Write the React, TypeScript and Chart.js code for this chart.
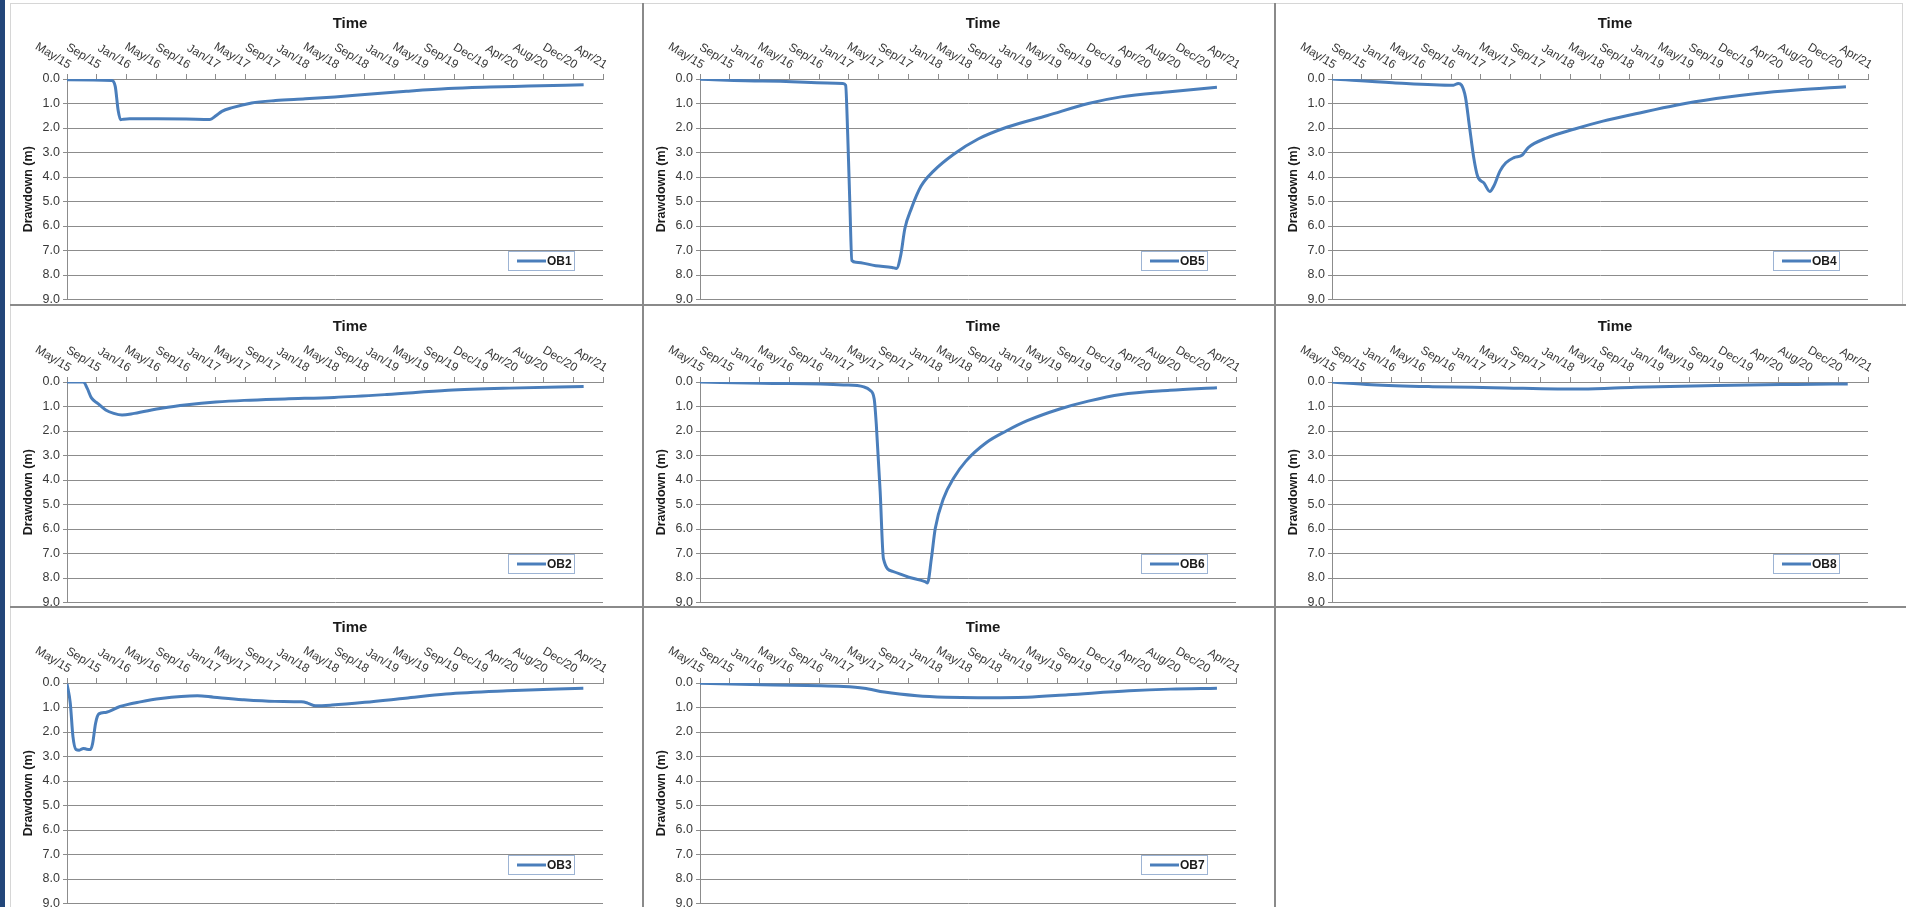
import React, { useEffect, useRef } from 'react';
import { Chart, registerables } from 'chart.js';

Chart.register(...registerables);

// ---- tick labels ----
const timeLabels = [
  'May/15', 'Sep/15', 'Jan/16', 'May/16', 'Sep/16', 'Jan/17', 'May/17', 'Sep/17', 'Jan/18',
  'May/18', 'Sep/18', 'Jan/19', 'May/19', 'Sep/19', 'Dec/19', 'Apr/20', 'Aug/20', 'Dec/20', 'Apr/21',
];
const yMin = 0;
const yMax = 9;

// ---- series (x = position along the time axis in label steps, y = drawdown in m) ----
const ob1X = [0, 1.5, 1.62, 1.72, 1.8, 1.9, 2.1, 3.0, 4.0, 4.8, 5.0, 5.2, 5.55, 6.2, 7.0, 8.0, 9.0, 10.0, 11.4, 12.8, 14.2, 15.5, 17.35];
const ob1Y = [0.03, 0.06, 0.3, 1.3, 1.66, 1.64, 1.62, 1.62, 1.63, 1.65, 1.5, 1.32, 1.17, 0.98, 0.88, 0.81, 0.73, 0.63, 0.5, 0.39, 0.33, 0.29, 0.23];

const ob5X = [0, 2.1, 4.8, 4.89, 4.96, 5.03, 5.1, 5.24, 5.9, 6.45, 6.6, 6.74, 6.88, 7.1, 7.42, 7.84, 8.52, 9.34, 10.3, 11.67, 13.04, 14.14, 15.78, 17.36];
const ob5Y = [0.01, 0.08, 0.18, 0.25, 2.25, 5.0, 7.41, 7.48, 7.62, 7.69, 7.73, 7.2, 6.1, 5.28, 4.38, 3.76, 3.07, 2.45, 1.97, 1.49, 1.0, 0.73, 0.52, 0.34];

const ob4X = [0, 2.04, 4.08, 4.24, 4.35, 4.48, 4.62, 4.76, 4.89, 5.1, 5.3, 5.43, 5.64, 5.84, 6.11, 6.39, 6.59, 7.2, 8.15, 9.1, 10.2, 11.55, 12.9, 14.27, 15.6, 17.26];
const ob4Y = [0.0, 0.15, 0.25, 0.18, 0.25, 0.73, 1.97, 3.21, 3.97, 4.24, 4.59, 4.38, 3.76, 3.42, 3.21, 3.1, 2.8, 2.41, 2.04, 1.72, 1.42, 1.07, 0.8, 0.59, 0.45, 0.32];

const ob2X = [0, 0.55, 0.68, 0.82, 1.03, 1.3, 1.57, 1.85, 2.26, 3.22, 4.04, 5.0, 5.95, 7.32, 8.97, 10.74, 12.8, 14.85, 17.35];
const ob2Y = [0.0, 0.0, 0.26, 0.65, 0.87, 1.14, 1.28, 1.35, 1.28, 1.06, 0.93, 0.82, 0.75, 0.69, 0.63, 0.51, 0.34, 0.25, 0.18];

const ob6X = [0, 2.08, 4.82, 5.5, 5.71, 5.85, 5.92, 6.05, 6.16, 6.47, 7.01, 7.56, 7.64, 7.77, 7.9, 8.18, 8.52, 8.93, 9.62, 10.3, 10.99, 12.08, 13.04, 14.14, 15.78, 17.36];
const ob6Y = [0.0, 0.05, 0.12, 0.2, 0.34, 0.69, 1.72, 4.46, 7.21, 7.73, 7.97, 8.15, 8.2, 7.21, 5.98, 4.74, 3.92, 3.23, 2.47, 1.99, 1.58, 1.1, 0.78, 0.51, 0.34, 0.23];

const ob8X = [0, 1.33, 3.37, 5.41, 8.4, 10.18, 12.9, 15.6, 17.32];
const ob8Y = [0.0, 0.11, 0.19, 0.23, 0.29, 0.21, 0.14, 0.1, 0.08];

const ob3X = [0, 0.11, 0.2, 0.3, 0.41, 0.55, 0.66, 0.79, 0.86, 0.96, 1.07, 1.3, 1.78, 2.46, 3.15, 4.38, 4.93, 5.89, 6.98, 7.87, 8.08, 8.35, 8.9, 10.0, 11.36, 12.73, 14.78, 17.34];
const ob3Y = [0.03, 0.82, 2.19, 2.71, 2.74, 2.67, 2.7, 2.71, 2.47, 1.64, 1.26, 1.2, 0.96, 0.77, 0.63, 0.52, 0.58, 0.68, 0.75, 0.77, 0.82, 0.93, 0.9, 0.79, 0.62, 0.45, 0.32, 0.21];

const ob7X = [0, 2.08, 4.82, 5.51, 6.19, 7.29, 8.25, 9.34, 10.99, 12.36, 14.41, 15.78, 17.36];
const ob7Y = [0.01, 0.07, 0.14, 0.21, 0.37, 0.52, 0.58, 0.6, 0.58, 0.48, 0.32, 0.25, 0.21];

// ---- styling ----
const FONT = '"Liberation Sans", Arial, sans-serif';
const LINE_COLOR = '#4a7ebb';
const GRID_COLOR = '#8c8c8c';
const TEXT_COLOR = '#383838';
const PANEL_W = 632;
const PANEL_H = 307;
const COL_LEFT = [10, 643, 1275];
const ROW_TOP = [3, 306, 607];

const axisDecorPlugin = {
  id: 'axisDecor',
  afterDraw(chart: any) {
    const { ctx, chartArea } = chart;
    const xs = chart.scales.x;
    const ys = chart.scales.y;
    ctx.save();
    // axis title "Time"
    ctx.font = `bold 15px ${FONT}`;
    ctx.fillStyle = '#1a1a1a';
    ctx.textAlign = 'center';
    ctx.textBaseline = 'middle';
    ctx.fillText('Time', (chartArea.left + chartArea.right) / 2 + 15, 21);
    // rotated category labels on the top axis
    ctx.font = `12px ${FONT}`;
    ctx.fillStyle = TEXT_COLOR;
    ctx.textAlign = 'right';
    ctx.textBaseline = 'middle';
    timeLabels.forEach((lab, i) => {
      const px = xs.getPixelForValue(i);
      ctx.save();
      ctx.translate(px + 3, chartArea.top - 13);
      ctx.rotate((31 * Math.PI) / 180);
      ctx.fillText(lab, 0, 0);
      ctx.restore();
    });
    // legend box inside plot
    const ds = chart.data.datasets[0];
    const w = 67;
    const h = 20;
    const x0 = Math.round(chartArea.right - 28 - w);
    const y0 = Math.round(ys.getPixelForValue(7));
    ctx.fillStyle = '#ffffff';
    ctx.fillRect(x0, y0, w, h);
    ctx.strokeStyle = '#9db4d4';
    ctx.lineWidth = 1;
    ctx.strokeRect(x0 + 0.5, y0 + 0.5, w - 1, h - 1);
    ctx.strokeStyle = ds.borderColor;
    ctx.lineWidth = 3;
    ctx.beginPath();
    ctx.moveTo(x0 + 9, y0 + h / 2);
    ctx.lineTo(x0 + 38, y0 + h / 2);
    ctx.stroke();
    ctx.font = `bold 12px ${FONT}`;
    ctx.fillStyle = '#1a1a1a';
    ctx.textAlign = 'left';
    ctx.fillText(ds.label, x0 + 39, y0 + h / 2 + 0.5);
    ctx.restore();
  },
};

function Panel(props: { label: string; xs: number[]; ys: number[]; left: number; top: number }) {
  const ref = useRef<HTMLCanvasElement>(null);
  useEffect(() => {
    const chart = new Chart(ref.current as HTMLCanvasElement, {
      type: 'line',
      data: {
        datasets: [
          {
            label: props.label,
            data: props.xs.map((x, i) => ({ x, y: props.ys[i] })),
            borderColor: LINE_COLOR,
            borderWidth: 3,
            pointRadius: 0,
            cubicInterpolationMode: 'monotone',
            fill: false,
          } as any,
        ],
      },
      options: {
        responsive: false,
        animation: false,
        layout: { padding: { left: 0, right: 39, top: 0, bottom: 0 } },
        plugins: { legend: { display: false }, tooltip: { enabled: false } },
        scales: {
          x: {
            type: 'linear',
            position: 'top',
            min: 0,
            max: timeLabels.length - 1,
            ticks: { display: false, stepSize: 1 },
            grid: { drawOnChartArea: false, drawTicks: true, tickLength: 5, color: GRID_COLOR },
            border: { color: GRID_COLOR, width: 1 },
            afterFit: (s: any) => {
              s.height = 76;
            },
          },
          y: {
            type: 'linear',
            reverse: true,
            min: yMin,
            max: yMax,
            ticks: {
              stepSize: 1,
              callback: (v: any) => Number(v).toFixed(1),
              font: { family: FONT, size: 12.5 },
              color: TEXT_COLOR,
              padding: 3,
            },
            grid: { color: GRID_COLOR, tickLength: 4, lineWidth: 1 },
            border: { color: GRID_COLOR, width: 1 },
            title: {
              display: true,
              text: 'Drawdown (m)',
              font: { family: FONT, size: 12.5, weight: 'bold' },
              color: '#1a1a1a',
              padding: { top: 11, bottom: 0 },
            },
            afterFit: (s: any) => {
              s.width = 57;
            },
          },
        },
      } as any,
      plugins: [axisDecorPlugin],
    });
    return () => chart.destroy();
  }, []);
  return (
    <canvas
      ref={ref}
      width={PANEL_W}
      height={PANEL_H}
      style={{ position: 'absolute', left: props.left, top: props.top, width: PANEL_W, height: PANEL_H }}
    />
  );
}

const panels = [
  { label: 'OB1', xs: ob1X, ys: ob1Y, col: 0, row: 0 },
  { label: 'OB5', xs: ob5X, ys: ob5Y, col: 1, row: 0 },
  { label: 'OB4', xs: ob4X, ys: ob4Y, col: 2, row: 0 },
  { label: 'OB2', xs: ob2X, ys: ob2Y, col: 0, row: 1 },
  { label: 'OB6', xs: ob6X, ys: ob6Y, col: 1, row: 1 },
  { label: 'OB8', xs: ob8X, ys: ob8Y, col: 2, row: 1 },
  { label: 'OB3', xs: ob3X, ys: ob3Y, col: 0, row: 2 },
  { label: 'OB7', xs: ob7X, ys: ob7Y, col: 1, row: 2 },
];

export default function App() {
  const line = (s: React.CSSProperties) => <div style={{ position: 'absolute', ...s }} />;
  return (
    <div style={{ position: 'fixed', left: 0, top: 0, width: 1906, height: 907, overflow: 'hidden', background: '#ffffff' }}>
      {panels.map((p) => (
        <Panel key={p.label} label={p.label} xs={p.xs} ys={p.ys} left={COL_LEFT[p.col]} top={ROW_TOP[p.row]} />
      ))}
      {line({ left: 0, top: 0, width: 5, height: 907, background: '#22467a' })}
      {line({ left: 10, top: 3, width: 1893, height: 1, background: '#d6d6d6' })}
      {line({ left: 10, top: 3, width: 1, height: 904, background: '#d6d6d6' })}
      {line({ left: 1902, top: 3, width: 1, height: 302, background: '#d6d6d6' })}
      {line({ left: 10, top: 304, width: 1896, height: 2, background: '#8a8a8a' })}
      {line({ left: 10, top: 606, width: 1896, height: 2, background: '#8a8a8a' })}
      {line({ left: 642, top: 3, width: 2, height: 904, background: '#8a8a8a' })}
      {line({ left: 1274, top: 3, width: 2, height: 904, background: '#8a8a8a' })}
    </div>
  );
}
